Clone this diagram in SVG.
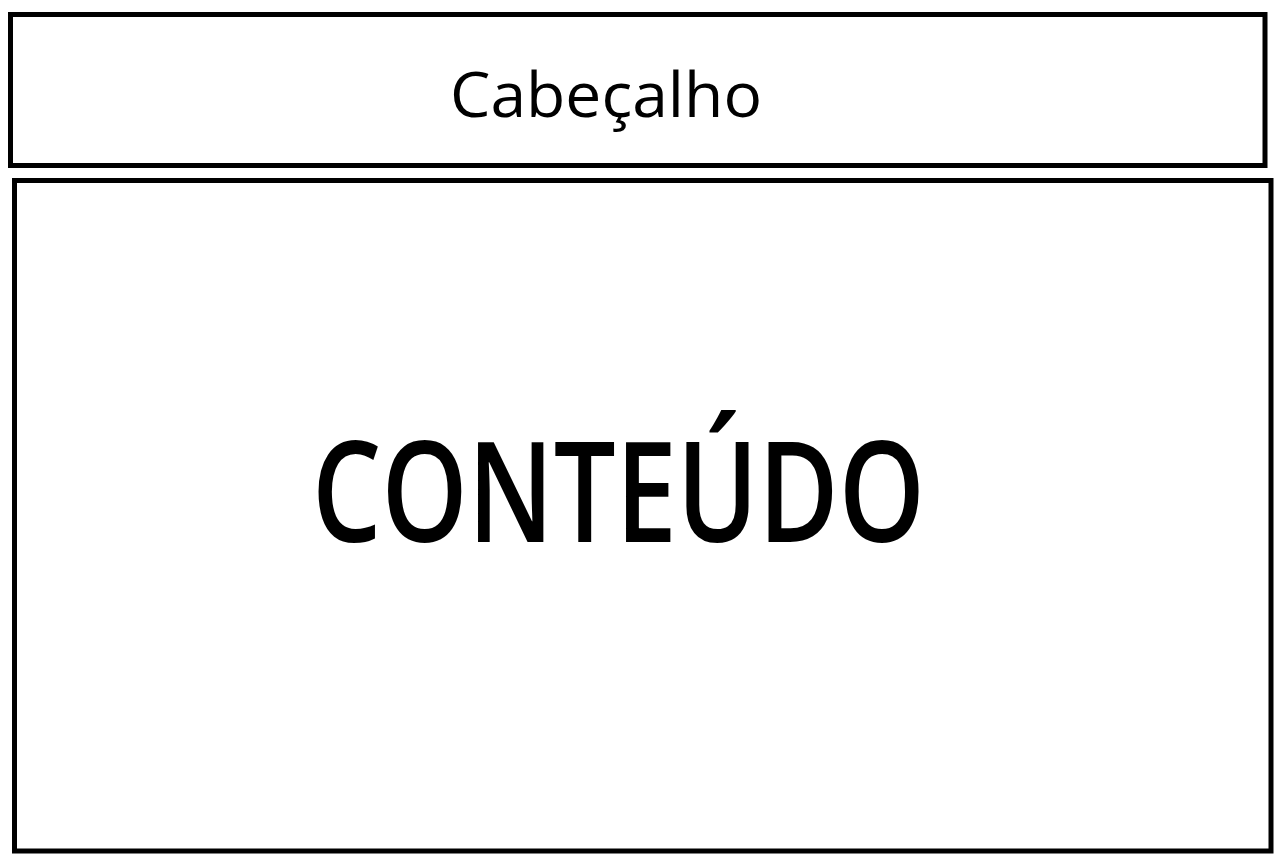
<svg xmlns="http://www.w3.org/2000/svg" width="1280" height="863" viewBox="0 0 1280 863">
  <style>
    .box { fill: #ffffff; stroke: #000000; stroke-width: 5; }
    .lbl { font-family: "Open Sans", "Noto Sans", "Liberation Sans", sans-serif; fill: #000000; text-anchor: middle; }
  </style>
  <rect x="0" y="0" width="1280" height="863" fill="#ffffff"/>
  <g id="cabecalho">
    <rect class="box" x="10.5" y="14.5" width="1254.5" height="151"/>
    <text class="lbl" x="606" y="116.5" font-size="63" textLength="312" lengthAdjust="spacingAndGlyphs">Cabeçalho</text>
  </g>
  <g id="conteudo">
    <rect class="box" x="14.5" y="180.5" width="1256.5" height="670.5"/>
    <text class="lbl" x="618.5" y="542" font-size="140" font-weight="600" textLength="613" lengthAdjust="spacingAndGlyphs">CONTEÚDO</text>
  </g>
  <g id="connectors"/>
</svg>
